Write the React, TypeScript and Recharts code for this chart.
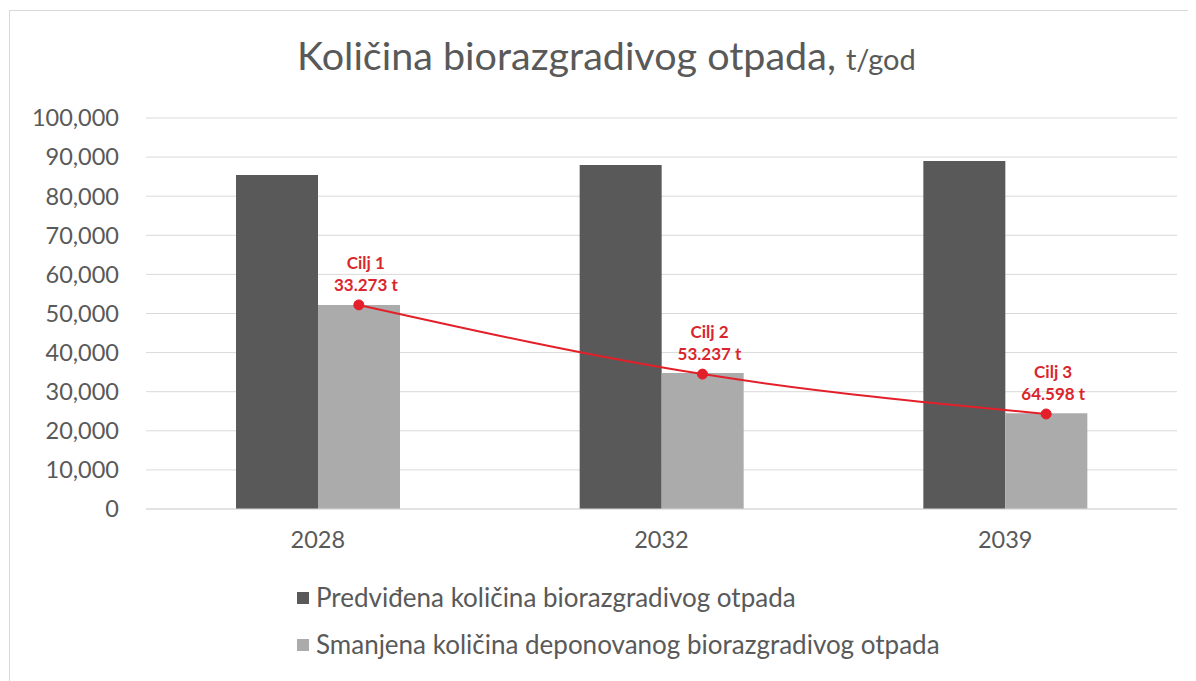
import {
    ComposedChart,
    Bar,
    Line,
    XAxis,
    YAxis,
    CartesianGrid,
} from 'recharts';

const years = ['2028', '2032', '2039'];
const predicted = [85400, 88000, 89000];
const reduced = [52200, 34800, 24500];
const targets = [52200, 34500, 24300];
const targetNames = ['Cilj 1', 'Cilj 2', 'Cilj 3'];
const targetTexts = ['33.273 t', '53.237 t', '64.598 t'];
const yTicks = [0, 10000, 20000, 30000, 40000, 50000, 60000, 70000, 80000, 90000, 100000];
const seriesNames = [
    'Predviđena količina biorazgradivog otpada',
    'Smanjena količina deponovanog biorazgradivog otpada',
];

const DARK = '#595959';
const LIGHT = '#ababab';
const RED = '#e3202a';
const TEXT = '#595959';
const FONT = 'Lato, "Open Sans", sans-serif';
const BAR_SIZE = 82;

const data = years.map((year, i) => ({
    year,
    predicted: predicted[i],
    reduced: reduced[i],
    target: targets[i],
}));

const formatTick = (v: number) => v.toLocaleString('en-US');

// two-line red label above each target point
const TargetLabel = (props: any) => {
    const { x, y, index } = props;
    if (x == null || y == null) return null;
    return (
        <text
            x={x + 7}
            textAnchor="middle"
            fill="#d9262c"
            fontFamily={FONT}
            fontSize={17}
            fontWeight={700}
        >
            <tspan x={x + 7} y={y - 36}>{targetNames[index]}</tspan>
            <tspan x={x + 7} y={y - 14}>{targetTexts[index]}</tspan>
        </text>
    );
};

export default function App() {
    return (
        <div
            style={{
                position: 'relative',
                width: 1190,
                height: 680,
                marginLeft: 1,
                marginTop: 2,
                border: '1px solid #d9d9d9',
                background: '#fff',
                fontFamily: FONT,
            }}
        >
            <div
                style={{
                    position: 'absolute',
                    left: 287,
                    top: 20,
                    lineHeight: 1.2,
                    fontSize: 39.5,
                    color: TEXT,
                    whiteSpace: 'nowrap',
                }}
            >
                Količina biorazgradivog otpada, <span style={{ fontSize: 29 }}>t/god</span>
            </div>

            <div style={{ position: 'absolute', left: 0, top: 0 }}>
                <ComposedChart
                    width={1186}
                    height={670}
                    data={data}
                    margin={{ top: 107, right: 19, left: 0, bottom: 112 }}
                    barGap={0}
                >
                    <CartesianGrid stroke="#d9d9d9" vertical={false} />
                    <XAxis
                        dataKey="year"
                        tickLine={false}
                        axisLine={{ stroke: '#d9d9d9' }}
                        tick={{ fill: TEXT, fontSize: 23.5, fontFamily: FONT }}
                        tickMargin={16}
                        height={60}
                    />
                    {/* hidden axis that moves the line onto the centre of the light bars */}
                    <XAxis
                        xAxisId="line"
                        dataKey="year"
                        hide
                        padding={{ left: BAR_SIZE / 2, right: -BAR_SIZE / 2 }}
                    />
                    <YAxis
                        domain={[0, 100000]}
                        ticks={yTicks}
                        tickFormatter={formatTick}
                        tickLine={false}
                        axisLine={false}
                        tick={{ fill: TEXT, fontSize: 23.5, fontFamily: FONT }}
                        tickMargin={21}
                        width={136}
                        interval={0}
                    />
                    <Bar
                        dataKey="predicted"
                        name={seriesNames[0]}
                        fill={DARK}
                        barSize={BAR_SIZE}
                        isAnimationActive={false}
                    />
                    <Bar
                        dataKey="reduced"
                        name={seriesNames[1]}
                        fill={LIGHT}
                        barSize={BAR_SIZE}
                        isAnimationActive={false}
                    />
                    <Line
                        xAxisId="line"
                        dataKey="target"
                        type="monotone"
                        stroke={RED}
                        strokeWidth={2}
                        dot={{ r: 5, fill: RED, stroke: RED, strokeWidth: 1 }}
                        label={<TargetLabel />}
                        isAnimationActive={false}
                    />
                </ComposedChart>
            </div>

            {seriesNames.map((name, i) => (
                <div
                    key={name}
                    style={{
                        position: 'absolute',
                        left: 287,
                        top: 571 + i * 47,
                        display: 'flex',
                        alignItems: 'center',
                        fontSize: 26,
                        color: TEXT,
                        whiteSpace: 'nowrap',
                        lineHeight: 1.2,
                    }}
                >
                    <span
                        style={{
                            display: 'inline-block',
                            width: 12,
                            height: 12,
                            background: i === 0 ? DARK : LIGHT,
                            marginRight: 7,
                        }}
                    />
                    {name}
                </div>
            ))}
        </div>
    );
}
